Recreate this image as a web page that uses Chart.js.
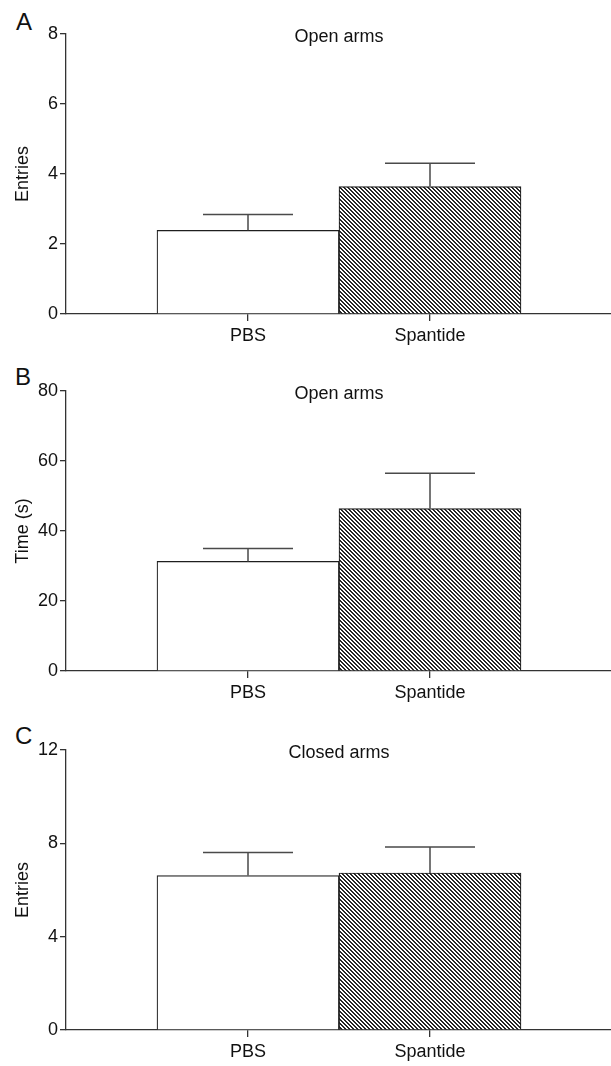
<!DOCTYPE html>
<html>
<head>
<meta charset="utf-8">
<script src="https://cdn.jsdelivr.net/npm/chart.js@4"></script>
<style>
  body { margin: 0; background: #fff; width: 611px; height: 1066px; position: relative; overflow: hidden; }
  .panel { position: absolute; left: 0; width: 616px; height: 350px; }
  .letter { position: absolute; font: 24px "Liberation Sans", Arial, sans-serif; line-height: 24px; color: #111; }
</style>
</head>
<body>
<div class="letter" style="left:16px; top:10px;">A</div>
<div class="letter" style="left:15px; top:365px;">B</div>
<div class="letter" style="left:15px; top:724px;">C</div>
<div class="panel" style="top:0px;"><canvas id="chartA"></canvas></div>
<div class="panel" style="top:357px;"><canvas id="chartB"></canvas></div>
<div class="panel" style="top:716px;"><canvas id="chartC"></canvas></div>
<script>
// Kategori
const categories = ['PBS', 'Spantide'];

// A: jumlah masuk lengan terbuka
const entriesOpen = [2.39, 3.64];
const entriesOpenErr = [0.45, 0.67];

// B: waktu di lengan terbuka (s)
const timeOpen = [31.3, 46.4];
const timeOpenErr = [3.7, 10.1];

// C: jumlah masuk lengan tertutup
const entriesClosed = [6.62, 6.73];
const entriesClosedErr = [0.99, 1.11];

const FONT = '"Liberation Sans", Arial, sans-serif';

// pola arsir diagonal untuk Spantide (piksel tajam)
function makeHatch() {
    const c = document.createElement('canvas');
    c.width = 4; c.height = 4;
    const g = c.getContext('2d');
    g.fillStyle = '#fff';
    g.fillRect(0, 0, 4, 4);
    g.fillStyle = '#262626';
    for (let yy = 0; yy < 4; yy++) {
        for (let xx = 0; xx < 4; xx++) {
            const d = ((xx - yy) % 4 + 4) % 4;
            if (d === 0 || d === 1) g.fillRect(xx, yy, 1, 1);
        }
    }
    return g.createPattern(c, 'repeat');
}
const hatch = makeHatch();

// error bar atas saja + judul di dalam area grafik
const sdPlugin = {
    id: 'sdBars',
    afterDatasetsDraw(chart, args, opts) {
        const ctx = chart.ctx;
        const meta = chart.getDatasetMeta(0);
        const y = chart.scales.y;
        ctx.save();
        ctx.strokeStyle = '#4a4a4a';
        ctx.lineWidth = 1.5;
        opts.err.forEach((e, i) => {
            const bar = meta.data[i + 1];
            const v = chart.data.datasets[0].data[i + 1];
            const top = y.getPixelForValue(v + e);
            ctx.beginPath();
            ctx.moveTo(bar.x, bar.y);
            ctx.lineTo(bar.x, top);
            ctx.moveTo(bar.x - 45, top);
            ctx.lineTo(bar.x + 45, top);
            ctx.stroke();
        });
        const a = chart.chartArea;
        ctx.fillStyle = '#111';
        ctx.font = '18px ' + FONT;
        ctx.textAlign = 'center';
        ctx.textBaseline = 'middle';
        ctx.fillText(opts.title, (a.left + a.right) / 2, a.top + 3);
        ctx.restore();
    }
};

function makeChart(id, values, errs, yMax, yStep, yTitle, title) {
    const ctx = document.getElementById(id)?.getContext('2d');
    if (!ctx) return;
    new Chart(ctx, {
        type: 'bar',
        data: {
            labels: ['', ...categories, ''],
            datasets: [{
                data: [null, ...values, null],
                backgroundColor: ['#fff', '#fff', hatch, '#fff'],
                borderColor: '#1e1e1e',
                borderWidth: 1.2,
                borderSkipped: 'bottom',
                barPercentage: 1,
                categoryPercentage: 1
            }]
        },
        options: {
            responsive: true,
            maintainAspectRatio: false,
            animation: false,
            layout: { padding: { top: 34, right: 0, bottom: 0, left: 0 } },
            plugins: {
                legend: { display: false },
                tooltip: { enabled: false },
                sdBars: { err: errs, title: title }
            },
            scales: {
                x: {
                    offset: false,
                    grid: {
                        offset: false,
                        drawOnChartArea: false,
                        tickLength: 7,
                        lineWidth: 1.3,
                        color: c => (c.index === 1 || c.index === 2) ? '#333' : 'rgba(0,0,0,0)'
                    },
                    border: { color: '#333', width: 1.3 },
                    ticks: { color: '#111', font: { family: FONT, size: 18 }, padding: 4, autoSkip: false, maxRotation: 0 },
                    afterFit: s => { s.height = 36; }
                },
                y: {
                    min: 0,
                    max: yMax,
                    grid: { drawOnChartArea: false, tickLength: 6, color: '#333', lineWidth: 1.3 },
                    border: { color: '#333', width: 1.3 },
                    ticks: { stepSize: yStep, color: '#111', font: { family: FONT, size: 18 }, padding: 2 },
                    title: { display: true, text: yTitle, color: '#111', font: { family: FONT, size: 18 }, padding: { top: 12, bottom: 0 } },
                    afterFit: s => { s.width = 66; }
                }
            }
        },
        plugins: [sdPlugin]
    });
}

makeChart('chartA', entriesOpen, entriesOpenErr, 8, 2, 'Entries', 'Open arms');
makeChart('chartB', timeOpen, timeOpenErr, 80, 20, 'Time (s)', 'Open arms');
makeChart('chartC', entriesClosed, entriesClosedErr, 12, 4, 'Entries', 'Closed arms');
</script>
</body>
</html>
